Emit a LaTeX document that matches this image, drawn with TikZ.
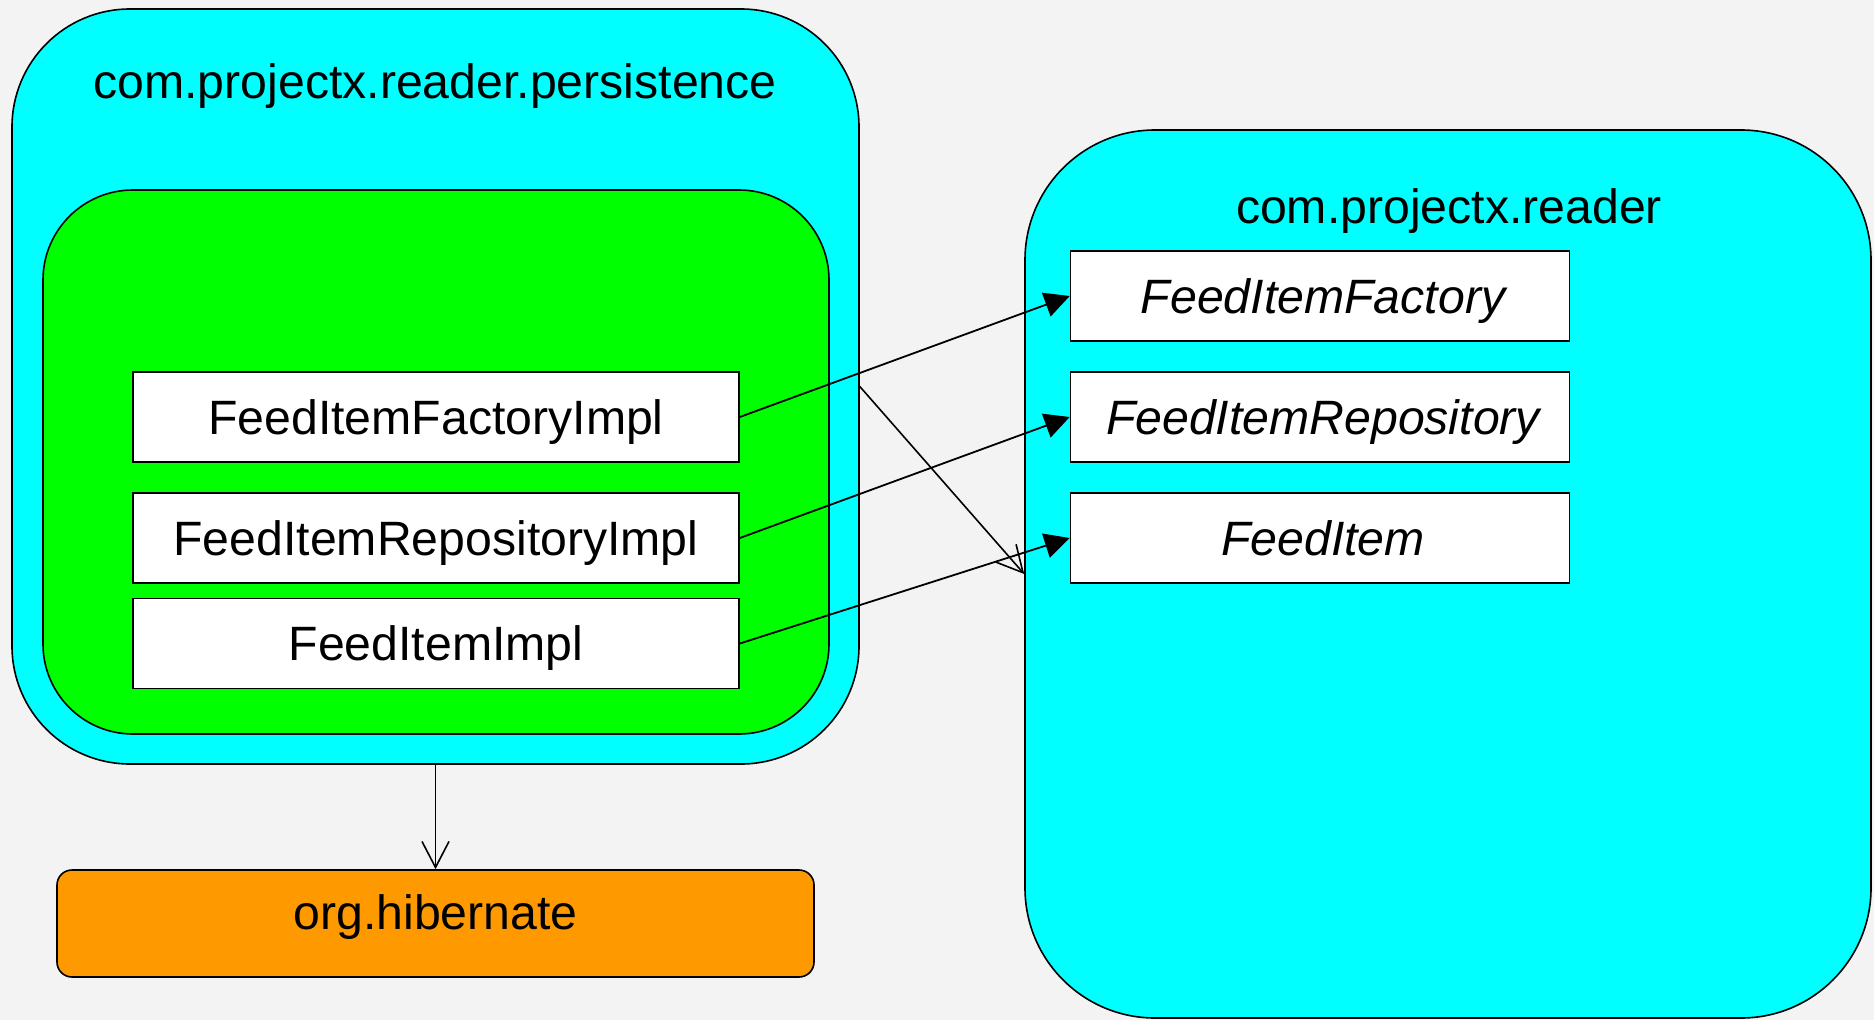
\documentclass[tikz,border=0pt]{standalone}
\usepackage{fontspec}
\setmainfont{Liberation Sans}
\usetikzlibrary{arrows.meta}
\definecolor{pkgcyan}{HTML}{00FFFF}
\definecolor{pkggreen}{HTML}{00FF00}
\definecolor{pkgorange}{HTML}{FF9900}
\definecolor{bggray}{HTML}{F3F3F3}
\tikzset{
  pkg/.style={draw=black, line width=1.6pt, rectangle, inner sep=0pt},
  cls/.style={draw=black, fill=white, line width=1.6pt, rectangle, inner sep=0pt,
    minimum width=606pt, minimum height=90pt, text height=34pt, text depth=0pt},
  iface/.style={cls, minimum width=499pt, font=\biglabel\itshape},
  title/.style={anchor=base, inner sep=0pt},
  realize/.style={line width=1.8pt, -{Triangle[length=25pt,width=25pt]}},
  depend/.style={line width=1.6pt, -{Straight Barb[length=26pt,width=27pt]}},
}
\newcommand{\biglabel}{\fontsize{48.2}{58}\selectfont}
\begin{document}
\begin{tikzpicture}[x=1pt, y=-1pt, font=\biglabel]
  \useasboundingbox (0,0) rectangle (1874,1020);
  \fill[bggray] (0,0) rectangle (1874,1020);

  % package com.projectx.reader.persistence
  \node[pkg, fill=pkgcyan, minimum width=847pt, minimum height=755pt,
        rounded corners=118pt] (persist) at (435.5,386.5) {};
  \node[title] (persistTitle) at (435,98) {com.projectx.reader.persistence};
  \node[pkg, fill=pkggreen, minimum width=786pt, minimum height=544pt,
        rounded corners=90pt] (impl) at (436,462) {};
  \node[cls] (fimpl) at (436,417) {FeedItemFactoryImpl};
  \node[cls] (rimpl) at (436,538) {FeedItemRepositoryImpl};
  \node[cls] (iimpl) at (436,643.5) {FeedItemImpl};

  % package com.projectx.reader
  \node[pkg, fill=pkgcyan, minimum width=846pt, minimum height=888pt,
        rounded corners=130pt] (reader) at (1448,574) {};
  \node[title] (readerTitle) at (1449,223) {com.projectx.reader};
  \node[iface, text width=499pt, align=center] (fi) at (1320,296) {\hspace*{6pt}FeedItemFactory};
  \node[iface, text width=499pt, align=center] (ri) at (1320,417) {\hspace*{6pt}FeedItemRepository};
  \node[iface, text width=499pt, align=center] (ii) at (1320,538) {\hspace*{6pt}FeedItem};

  % package org.hibernate
  \node[pkg, fill=pkgorange, minimum width=757pt, minimum height=107pt,
        rounded corners=15pt, text height=34pt, text depth=23pt] (hib) at (435.5,923.5) {org.hibernate};

  % connectors
  \draw[realize] (fimpl.east) -- (fi.west);
  \draw[realize] (rimpl.east) -- (ri.west);
  \draw[realize] (iimpl.east) -- (ii.west);
  \draw[depend] (persist.east) -- (reader.west);
  \draw[depend] (persist.south) -- (hib.north);
\end{tikzpicture}
\end{document}
